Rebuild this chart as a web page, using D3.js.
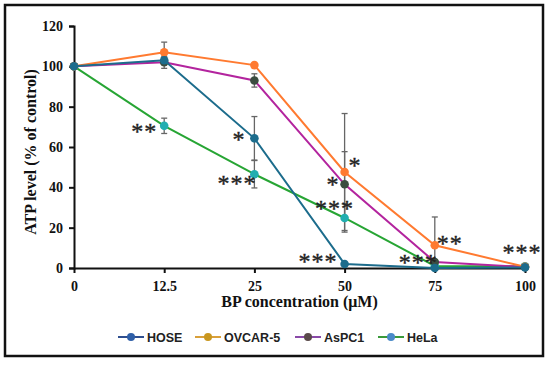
<!DOCTYPE html>
<html>
<head>
<meta charset="utf-8">
<script src="https://cdn.jsdelivr.net/npm/d3@7"></script>
<style>
  body { margin: 0; background: #fff; }
  svg { display: block; }
</style>
</head>
<body>
<div id="chart"></div>
<script>
// data
const concentrations = ["0", "12.5", "25", "50", "75", "100"];
const seriesNames = ["HOSE", "OVCAR-5", "AsPC1", "HeLa"];

const hoseValues = [100, 103, 64.3, 2, 0, 0.3];
const hoseErrors = [0, 1.5, 10.8, 0.5, 0, 0];
const ovcarValues = [100, 107, 100.6, 47.6, 11.3, 0.6];
const ovcarErrors = [0, 5, 0.5, 29, 14, 0];
const aspcValues = [100, 102, 93, 41.5, 3, 0.5];
const aspcErrors = [0, 3, 3.3, 16.2, 0, 0];
const helaValues = [100, 70.5, 46.5, 24.8, 1, 0.8];
const helaErrors = [0, 3.8, 6.8, 7, 0, 0];

const yTicks = [0, 20, 40, 60, 80, 100, 120];

// significance marks: [series, concentration, text]
const stars = [
    ["HeLa", "12.5", "**"],
    ["HOSE", "25", "*"],
    ["HeLa", "25", "***"],
    ["OVCAR-5", "50", "*"],
    ["AsPC1", "50", "*"],
    ["HeLa", "50", "***"],
    ["HOSE", "50", "***"],
    ["OVCAR-5", "75", "**"],
    ["HeLa", "75", "***"],
    ["HeLa", "100", "***"]
];

function drawChart() {
    const W = 550, H = 365;
    const margin = {top: 26, right: 25, bottom: 97, left: 74},
        width = W - margin.left - margin.right,
        height = H - margin.top - margin.bottom;

    const svg = d3.select("#chart")
        .append("svg")
        .attr("width", W)
        .attr("height", H);

    // outer frame
    svg.append("rect")
        .attr("x", 5).attr("y", 5)
        .attr("width", 538).attr("height", 351)
        .attr("fill", "none")
        .attr("stroke", "#111")
        .attr("stroke-width", 2.5);

    const g = svg.append("g")
        .attr("transform", `translate(${margin.left},${margin.top})`);

    const x = d3.scalePoint()
        .domain(concentrations)
        .range([0, width]);

    const y = d3.scaleLinear()
        .domain([0, 120])
        .range([height, 0]);

    const serif = "'Liberation Serif', 'Times New Roman', serif";

    // y axis
    const yAxis = g.append("g")
        .call(d3.axisLeft(y).tickValues(yTicks).tickSize(5).tickPadding(6));
    yAxis.select(".domain").attr("stroke", "#111").attr("stroke-width", 2);
    yAxis.selectAll(".tick line").attr("stroke", "#111").attr("stroke-width", 2);
    yAxis.selectAll("text")
        .style("font-family", serif)
        .style("font-weight", "bold")
        .style("font-size", "14px")
        .attr("fill", "#111");

    // x axis
    const xAxis = g.append("g")
        .attr("transform", `translate(0,${height})`)
        .call(d3.axisBottom(x).tickSize(5).tickPadding(8).tickSizeOuter(0));
    xAxis.select(".domain").attr("stroke", "#111").attr("stroke-width", 2);
    xAxis.selectAll(".tick line").attr("stroke", "#111").attr("stroke-width", 2);
    xAxis.selectAll("text")
        .style("font-family", serif)
        .style("font-weight", "bold")
        .style("font-size", "14px")
        .attr("fill", "#111");

    // axis titles
    svg.append("text")
        .attr("x", margin.left + width / 2)
        .attr("y", 307)
        .attr("text-anchor", "middle")
        .style("font-family", serif)
        .style("font-weight", "bold")
        .style("font-size", "16px")
        .attr("fill", "#111")
        .text("BP concentration (μM)");

    svg.append("text")
        .attr("transform", `translate(36,${margin.top + height / 2 + 5}) rotate(-90)`)
        .attr("text-anchor", "middle")
        .style("font-family", serif)
        .style("font-weight", "bold")
        .style("font-size", "16px")
        .attr("fill", "#111")
        .text("ATP level (% of control)");

    const series = [
        {name: "HOSE", values: hoseValues, errors: hoseErrors, line: "#1c6c8c", dot: "#1c6c8c", legLine: "#2f4f8f", legDot: "#2f5fa8"},
        {name: "OVCAR-5", values: ovcarValues, errors: ovcarErrors, line: "#ff7a30", dot: "#ff7a30", legLine: "#d9a03a", legDot: "#c9971f"},
        {name: "AsPC1", values: aspcValues, errors: aspcErrors, line: "#b3249e", dot: "#3b4d40", legLine: "#8a4aa8", legDot: "#5a4a4a"},
        {name: "HeLa", values: helaValues, errors: helaErrors, line: "#27a534", dot: "#22aeb0", legLine: "#3a9a3a", legDot: "#4a8ac8"}
    ];

    const line = d3.line()
        .x((d, i) => x(concentrations[i]))
        .y(d => y(d));

    // error bars (drawn under lines)
    series.forEach(s => {
        const eg = g.append("g");
        s.values.forEach((v, i) => {
            const e = s.errors[i];
            if (!e) return;
            const cx = x(concentrations[i]);
            eg.append("line")
                .attr("x1", cx).attr("x2", cx)
                .attr("y1", y(v + e)).attr("y2", y(Math.max(0, v - e)))
                .attr("stroke", "#666").attr("stroke-width", 1.3);
            [v + e, Math.max(0, v - e)].forEach(t => {
                eg.append("line")
                    .attr("x1", cx - 3).attr("x2", cx + 3)
                    .attr("y1", y(t)).attr("y2", y(t))
                    .attr("stroke", "#666").attr("stroke-width", 1.3);
            });
        });
    });

    // lines and markers, HeLa first so HOSE sits on top
    series.slice().reverse().forEach(s => {
        g.append("path")
            .datum(s.values)
            .attr("fill", "none")
            .attr("stroke", s.line)
            .attr("stroke-width", 2)
            .attr("d", line);

        g.selectAll(null)
            .data(s.values)
            .join("circle")
            .attr("cx", (d, i) => x(concentrations[i]))
            .attr("cy", d => y(d))
            .attr("r", 4.3)
            .attr("fill", s.dot);
    });

    // significance stars, offsets relative to the data point
    const starOffset = {
        "HeLa|12.5": [-7, 13, "end"],
        "HOSE|25": [-9, 9, "end"],
        "HeLa|25": [2, 17, "end"],
        "OVCAR-5|50": [4, 1, "start"],
        "AsPC1|50": [-5, 8, "end"],
        "HeLa|50": [-10, -2, "middle"],
        "HOSE|50": [-7, 5, "end"],
        "OVCAR-5|75": [2, 6, "start"],
        "HeLa|75": [3, 4, "end"],
        "HeLa|100": [-3, -6, "middle"]
    };
    stars.forEach(([name, conc, txt]) => {
        const s = series.find(d => d.name === name);
        const v = s.values[concentrations.indexOf(conc)];
        const off = starOffset[name + "|" + conc];
        g.append("text")
            .attr("x", x(conc) + off[0])
            .attr("y", y(v) + off[1])
            .attr("text-anchor", off[2])
            .style("font-family", serif)
            .style("font-size", "24px")
            .style("letter-spacing", "1px")
            .attr("fill", "#222")
            .attr("stroke", "#222")
            .attr("stroke-width", 0.4)
            .text(txt);
    });

    // legend
    const legendX = [118, 195, 295, 378];
    const legend = svg.append("g");
    series.forEach((s, i) => {
        const lg = legend.append("g")
            .attr("transform", `translate(${legendX[i]},337)`);
        lg.append("line")
            .attr("x1", 0).attr("x2", 26)
            .attr("stroke", s.legLine)
            .attr("stroke-width", 2);
        lg.append("circle")
            .attr("cx", 13).attr("r", 4)
            .attr("fill", s.legDot);
        lg.append("text")
            .attr("x", 29)
            .attr("dy", "0.36em")
            .style("font-family", "'Liberation Sans', Arial, sans-serif")
            .style("font-weight", "bold")
            .style("font-size", "12.5px")
            .attr("fill", "#222")
            .text(s.name);
    });
}

drawChart();
</script>
</body>
</html>
